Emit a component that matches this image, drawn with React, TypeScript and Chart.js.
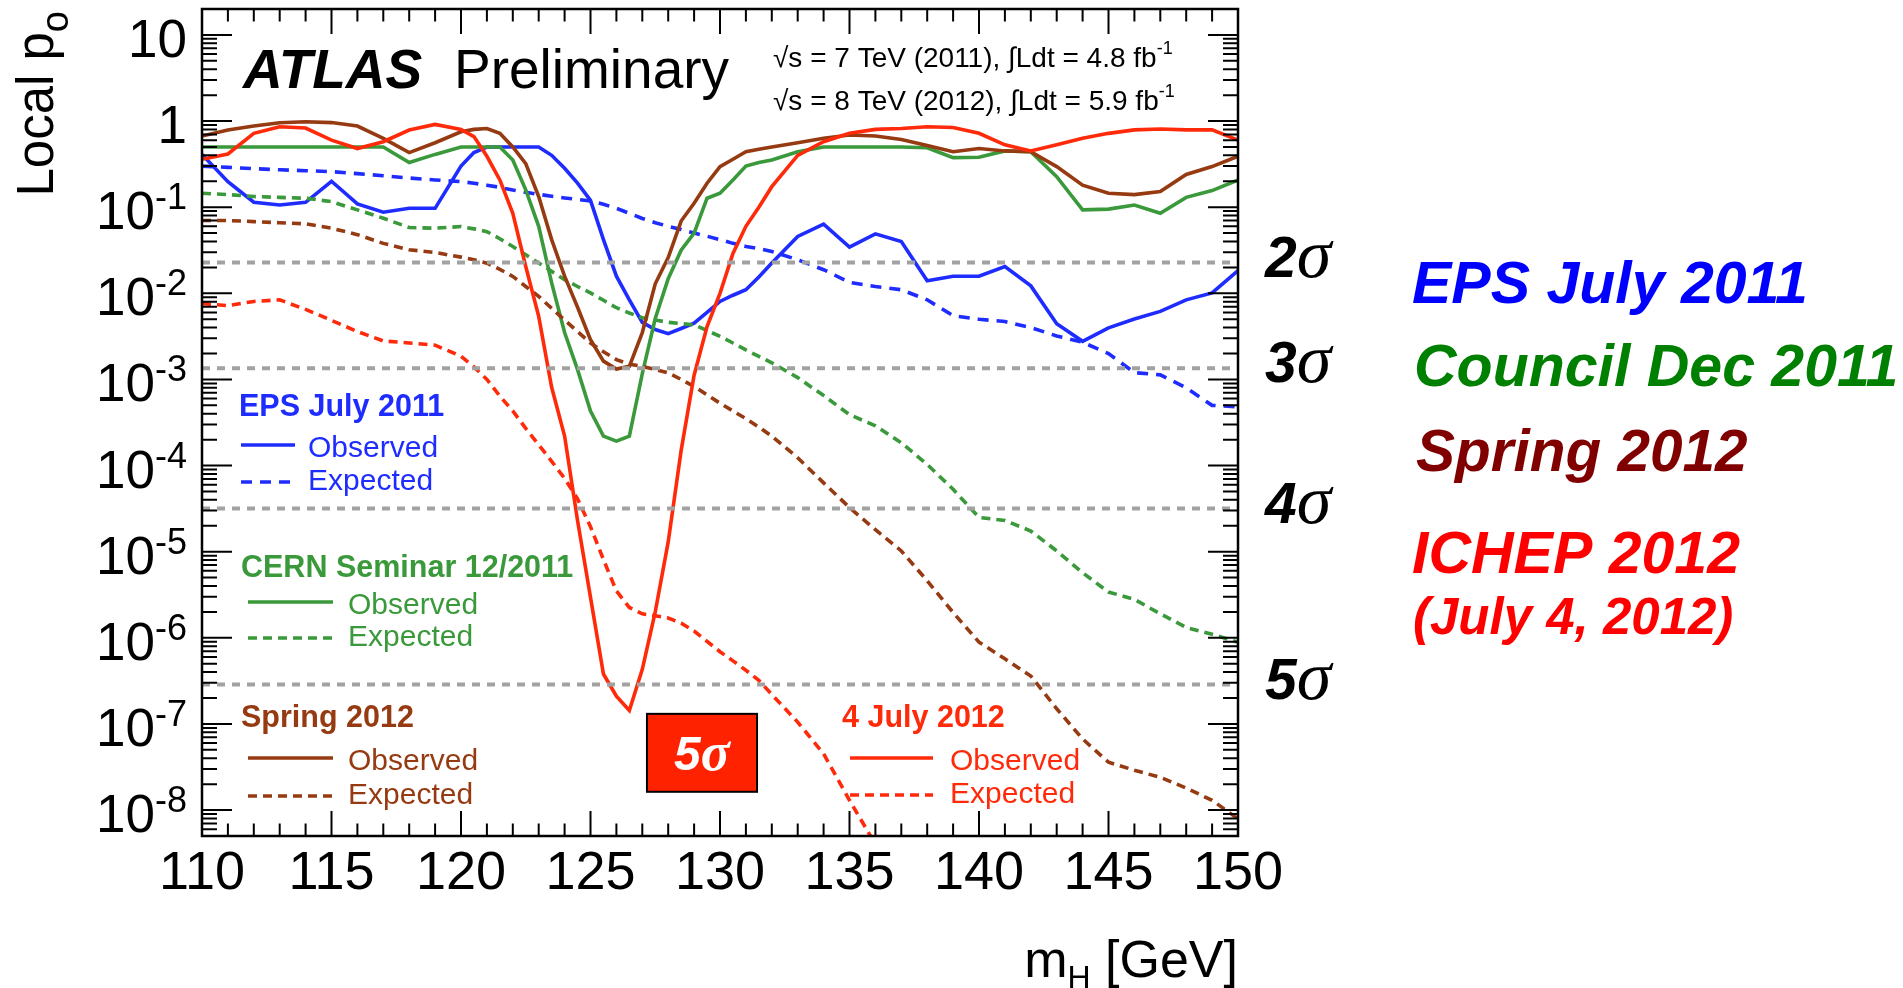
import React, { useEffect, useRef } from 'react';
import { Chart, registerables } from 'chart.js';

Chart.register(...registerables);

const SANS = '"Liberation Sans", Arial, Helvetica, sans-serif';
const SERIF = '"Liberation Serif", "Times New Roman", serif';

// Higgs mass grid (GeV)
const MASS = [
  110, 111, 112, 113, 114, 115, 116, 117, 118, 119,
  120, 120.5, 121, 121.5, 122, 122.5, 123, 123.5, 124, 124.5,
  125, 125.5, 126, 126.5, 127, 127.5, 128, 128.5, 129, 129.5,
  130, 130.5, 131, 131.5, 132,
  133, 134, 135, 136, 137, 138, 139, 140, 141, 142,
  143, 144, 145, 146, 147, 148, 149, 150,
];

// EPS July 2011
const EPS_OBS = [
  0.41, 0.198, 0.114, 0.106, 0.114, 0.2, 0.109, 0.0875, 0.097, 0.097,
  0.3, 0.43, 0.5, 0.5, 0.5, 0.5, 0.5, 0.4, 0.283, 0.19,
  0.12, 0.042, 0.0158, 0.0084, 0.0046, 0.0038, 0.0034, 0.0039, 0.0045, 0.006,
  0.00805, 0.0095, 0.011, 0.0155, 0.0225,
  0.0457, 0.0635, 0.0344, 0.049, 0.04, 0.014, 0.0158, 0.0158, 0.0205, 0.0122,
  0.00444, 0.00277, 0.00397, 0.00503, 0.00617, 0.0084, 0.0101, 0.0184,
];
const EPS_EXP = [
  0.3, 0.29, 0.28, 0.272, 0.265, 0.259, 0.245, 0.232, 0.218, 0.207,
  0.198, 0.19, 0.18, 0.17, 0.158, 0.149, 0.141, 0.134, 0.128, 0.123,
  0.118, 0.108, 0.097, 0.085, 0.074, 0.066, 0.06, 0.055, 0.05, 0.046,
  0.042, 0.038, 0.035, 0.033, 0.0306,
  0.0245, 0.0188, 0.0134, 0.012, 0.011, 0.0084, 0.0055, 0.005, 0.0047, 0.004,
  0.0032, 0.0027, 0.002, 0.0012, 0.00113, 0.0008, 0.0005, 0.00048,
];

// CERN Seminar 12/2011
const DEC_OBS = [
  0.5, 0.5, 0.5, 0.5, 0.5, 0.5, 0.5, 0.5, 0.33, 0.41,
  0.5, 0.5, 0.5, 0.5, 0.353, 0.159, 0.06, 0.0132, 0.0035, 0.0013,
  0.00043, 0.00022, 0.000192, 0.00022, 0.00117, 0.0051, 0.0148, 0.0316, 0.05, 0.127,
  0.145, 0.207, 0.3, 0.33, 0.353,
  0.44, 0.5, 0.5, 0.5, 0.5, 0.49, 0.376, 0.38, 0.45, 0.44,
  0.226, 0.093, 0.095, 0.106, 0.085, 0.13, 0.156, 0.207,
];
const DEC_EXP = [
  0.145, 0.14, 0.133, 0.13, 0.127, 0.116, 0.093, 0.0745, 0.058, 0.057,
  0.0596, 0.056, 0.052, 0.043, 0.035, 0.028, 0.0225, 0.018, 0.0144, 0.012,
  0.0101, 0.0083, 0.0068, 0.0059, 0.0052, 0.0049, 0.0046, 0.00445, 0.0043, 0.0037,
  0.00316, 0.00265, 0.0022, 0.00185, 0.00156,
  0.00105, 0.00065, 0.00039, 0.00029, 0.000184, 0.000103, 5.3e-5, 2.5e-5, 2.3e-5, 1.74e-5,
  1.02e-5, 5.7e-6, 3.4e-6, 2.8e-6, 1.9e-6, 1.32e-6, 1.1e-6, 8.9e-7,
];

// Spring 2012
const SPR_OBS = [
  0.67, 0.787, 0.875, 0.957, 0.98, 0.96, 0.875, 0.63, 0.43, 0.56,
  0.75, 0.8, 0.82, 0.72, 0.5, 0.32, 0.133, 0.042, 0.0158, 0.0069,
  0.0029, 0.00163, 0.00132, 0.00142, 0.0035, 0.0129, 0.026, 0.069, 0.111, 0.19,
  0.296, 0.36, 0.44, 0.47, 0.5,
  0.56, 0.63, 0.69, 0.67, 0.61, 0.52, 0.44, 0.48, 0.45, 0.44,
  0.296, 0.18, 0.145, 0.14, 0.152, 0.24, 0.296, 0.39,
];
const SPR_EXP = [
  0.07, 0.07, 0.068, 0.066, 0.064, 0.057, 0.048, 0.038, 0.032, 0.0298,
  0.0263, 0.0245, 0.0224, 0.019, 0.0157, 0.012, 0.0092, 0.0067, 0.0049, 0.0036,
  0.00265, 0.0021, 0.0017, 0.0015, 0.00142, 0.0013, 0.00119, 0.001, 0.00083, 0.00066,
  0.00053, 0.00043, 0.00035, 0.00028, 0.00022,
  0.000123, 6.3e-5, 3.25e-5, 1.8e-5, 1.02e-5, 4.6e-6, 1.97e-6, 8.9e-7, 5.7e-7, 3.6e-7,
  1.5e-7, 6.7e-8, 3.6e-8, 2.9e-8, 2.4e-8, 1.8e-8, 1.3e-8, 7.9e-9,
];

// 4 July 2012 (ICHEP)
const JUL_OBS = [
  0.36, 0.415, 0.72, 0.86, 0.83, 0.6, 0.48, 0.575, 0.787, 0.915,
  0.8, 0.66, 0.39, 0.207, 0.085, 0.0205, 0.0054, 0.00081, 0.00022, 2.3e-5,
  2.95e-6, 3.8e-7, 2.1e-7, 1.43e-7, 4.3e-7, 2.0e-6, 1.3e-5, 0.00015, 0.00112, 0.0041,
  0.01, 0.029, 0.06, 0.1, 0.173,
  0.4, 0.575, 0.72, 0.8, 0.82, 0.86, 0.84, 0.72, 0.53, 0.45,
  0.53, 0.63, 0.72, 0.79, 0.81, 0.79, 0.79, 0.6,
];
const JUL_EXP = [
  0.0076, 0.0072, 0.00805, 0.0084, 0.0065, 0.00485, 0.0036, 0.0028, 0.00265, 0.0025,
  0.00186, 0.0014, 0.001, 0.00064, 0.00043, 0.00027, 0.000174, 0.000112, 7.1e-5, 4.1e-5,
  1.95e-5, 8.1e-6, 3.5e-6, 2.25e-6, 1.9e-6, 1.8e-6, 1.7e-6, 1.48e-6, 1.2e-6, 9.1e-7,
  6.9e-7, 5.4e-7, 4.2e-7, 3.2e-7, 2.2e-7,
  1.05e-7, 4.5e-8, 1.3e-8, 4.0e-9, null, null, null, null, null, null,
  null, null, null, null, null, null, null, null,
];

// one-sided p-values of 2,3,4,5 sigma
const SIGMA_P = [0.02275, 1.35e-3, 3.17e-5, 2.87e-7];
const SIGMA_N = ['2', '3', '4', '5'];

const X_TICKS = [110, 115, 120, 125, 130, 135, 140, 145, 150];
const Y_DECADES = [1, 0, -1, -2, -3, -4, -5, -6, -7, -8];

const BLUE = '#1e2cff';
const GREEN = '#3a993a';
const BROWN = '#963a12';
const RED = '#ff2a0a';
const GREY = '#a2a2a2';

const series = (vals: (number | null)[]) => MASS.map((m, i) => ({ x: m, y: vals[i] }));

type Run = { t: string; f: string; dy?: number; c?: string };

function drawRuns(ctx: CanvasRenderingContext2D, runs: Run[], x: number, y: number, align: string, color: string) {
  let w = 0;
  for (const r of runs) { ctx.font = r.f; w += ctx.measureText(r.t).width; }
  let cx = align === 'right' ? x - w : align === 'center' ? x - w / 2 : x;
  ctx.textAlign = 'left';
  ctx.textBaseline = 'alphabetic';
  for (const r of runs) {
    ctx.font = r.f;
    ctx.fillStyle = r.c || color;
    ctx.fillText(r.t, cx, y + (r.dy || 0));
    cx += ctx.measureText(r.t).width;
  }
}

function seg(ctx: CanvasRenderingContext2D, x1: number, y1: number, x2: number, y2: number, color: string, lw: number, dash: number[]) {
  ctx.save();
  ctx.strokeStyle = color;
  ctx.lineWidth = lw;
  ctx.setLineDash(dash);
  ctx.beginPath();
  ctx.moveTo(x1, y1);
  ctx.lineTo(x2, y2);
  ctx.stroke();
  ctx.restore();
}

const decor = {
  id: 'decor',
  afterDatasetsDraw(chart: any) {
    const { ctx, chartArea: a } = chart;
    const xs = chart.scales.x;
    const ys = chart.scales.y;
    ctx.save();

    // inner ticks on all four sides
    ctx.strokeStyle = '#000';
    ctx.lineWidth = 2;
    ctx.beginPath();
    for (let v = xs.min; v <= xs.max; v += 1) {
      const px = xs.getPixelForValue(v);
      const len = v % 5 === 0 ? 25 : 12.5;
      ctx.moveTo(px, a.bottom); ctx.lineTo(px, a.bottom - len);
      ctx.moveTo(px, a.top); ctx.lineTo(px, a.top + len);
    }
    for (let k = -9; k <= 1; k++) {
      for (let m = 1; m <= 9; m++) {
        const v = m * Math.pow(10, k);
        if (v < ys.min * 0.999 || v > ys.max * 1.001) continue;
        const py = ys.getPixelForValue(v);
        const len = m === 1 ? 30 : 15;
        ctx.moveTo(a.left, py); ctx.lineTo(a.left + len, py);
        ctx.moveTo(a.right, py); ctx.lineTo(a.right - len, py);
      }
    }
    ctx.stroke();
    ctx.lineWidth = 2.5;
    ctx.strokeRect(a.left, a.top, a.right - a.left, a.bottom - a.top);

    // y tick labels
    for (const k of Y_DECADES) {
      const py = ys.getPixelForValue(Math.pow(10, k));
      if (k === 1) drawRuns(ctx, [{ t: '10', f: `53px ${SANS}` }], 187, py + 22, 'right', '#000');
      else if (k === 0) drawRuns(ctx, [{ t: '1', f: `53px ${SANS}` }], 187, py + 22, 'right', '#000');
      else drawRuns(ctx, [{ t: '10', f: `53px ${SANS}` }, { t: String(k), f: `36px ${SANS}`, dy: -20 }], 187, py + 22, 'right', '#000');
    }

    // y axis title
    ctx.save();
    ctx.translate(53, 11);
    ctx.rotate(-Math.PI / 2);
    drawRuns(ctx, [{ t: 'Local p', f: `51px ${SANS}` }, { t: 'o', f: `38px ${SANS}`, dy: 15 }], 0, 0, 'right', '#000');
    ctx.restore();

    // x axis title
    drawRuns(ctx, [{ t: 'm', f: `52px ${SANS}` }, { t: 'H', f: `32px ${SANS}`, dy: 11 }, { t: ' [GeV]', f: `52px ${SANS}` }], a.right, 977, 'right', '#000');

    // ATLAS label
    drawRuns(ctx, [{ t: 'ATLAS', f: `italic bold 55px ${SANS}` }], 243, 88, 'left', '#000');
    drawRuns(ctx, [{ t: 'Preliminary', f: `55px ${SANS}` }], 454, 88, 'left', '#000');
    drawRuns(ctx, [{ t: '\u221As = 7 TeV (2011), \u222BLdt = 4.8 fb', f: `28px ${SANS}` }, { t: '-1', f: `18px ${SANS}`, dy: -13 }], 773, 67, 'left', '#000');
    drawRuns(ctx, [{ t: '\u221As = 8 TeV (2012), \u222BLdt = 5.9 fb', f: `28px ${SANS}` }, { t: '-1', f: `18px ${SANS}`, dy: -13 }], 773, 110, 'left', '#000');

    // in-plot legends
    const legend = (title: string, color: string, tx: number, ty: number, lx1: number, lx2: number, txt: number, obsY: number, expY: number, dash: number[]) => {
      drawRuns(ctx, [{ t: title, f: `bold 30.5px ${SANS}` }], tx, ty, 'left', color);
      seg(ctx, lx1, obsY, lx2, obsY, color, 3.5, []);
      seg(ctx, lx1, expY, lx2, expY, color, 3.5, dash);
      drawRuns(ctx, [{ t: 'Observed', f: `30px ${SANS}` }], txt, obsY + 12, 'left', color);
      drawRuns(ctx, [{ t: 'Expected', f: `30px ${SANS}` }], txt, expY + 8, 'left', color);
    };
    legend('EPS July 2011', BLUE, 239, 416, 241, 295, 308, 445, 482, [11, 8]);
    legend('CERN Seminar 12/2011', GREEN, 241, 577, 248, 333, 348, 602, 638, [9, 6]);
    legend('Spring 2012', BROWN, 241, 727, 248, 333, 348, 758, 796, [9, 6]);
    legend('4 July 2012', RED, 842, 727, 850, 933, 950, 758, 795, [9, 6]);

    // 5 sigma box
    const bx1 = xs.getPixelForValue(127.18), bx2 = xs.getPixelForValue(131.43);
    const by1 = ys.getPixelForValue(1.31e-7), by2 = ys.getPixelForValue(1.63e-8);
    ctx.fillStyle = '#ff2200';
    ctx.fillRect(bx1, by1, bx2 - bx1, by2 - by1);
    ctx.strokeStyle = '#000';
    ctx.lineWidth = 2;
    ctx.strokeRect(bx1, by1, bx2 - bx1, by2 - by1);
    drawRuns(ctx, [{ t: '5', f: `italic bold 48px ${SANS}` }, { t: '\u03C3', f: `italic bold 54px ${SERIF}` }], (bx1 + bx2) / 2, (by1 + by2) / 2 + 17, 'center', '#fff');

    // sigma labels right of the frame
    SIGMA_P.forEach((p, i) => {
      const py = ys.getPixelForValue(p);
      drawRuns(ctx, [{ t: SIGMA_N[i], f: `italic bold 57px ${SANS}` }, { t: '\u03C3', f: `italic 70px ${SERIF}` }], 1265, py + 14, 'left', '#000');
    });

    // right-hand text block
    drawRuns(ctx, [{ t: 'EPS July 2011', f: `italic bold 59px ${SANS}` }], 1412, 303, 'left', '#0000ff');
    drawRuns(ctx, [{ t: 'Council Dec 2011', f: `italic bold 59px ${SANS}` }], 1414, 386, 'left', '#008000');
    drawRuns(ctx, [{ t: 'Spring 2012', f: `italic bold 58.5px ${SANS}` }], 1416, 471, 'left', '#800000');
    drawRuns(ctx, [{ t: 'ICHEP 2012', f: `italic bold 59px ${SANS}` }], 1412, 573, 'left', '#ff0000');
    drawRuns(ctx, [{ t: '(July 4, 2012)', f: `italic bold 51px ${SANS}` }], 1413, 634, 'left', '#ff0000');

    ctx.restore();
  },
};

export default function App() {
  const ref = useRef<HTMLCanvasElement | null>(null);

  useEffect(() => {
    const canvas = ref.current;
    if (!canvas) return;
    const sigmaSets = SIGMA_P.map((p) => ({
      data: [{ x: 110, y: p }, { x: 150, y: p }],
      borderColor: GREY,
      borderWidth: 4,
      borderDash: [8, 7],
    }));
    const line = (vals: (number | null)[], color: string, dashed: boolean) => ({
      data: series(vals),
      borderColor: color,
      borderWidth: 3.6,
      borderDash: dashed ? [9, 6] : [],
    });
    const chart = new Chart(canvas, {
      type: 'line',
      data: {
        datasets: [
          ...sigmaSets,
          line(JUL_OBS, RED, false),
          line(JUL_EXP, RED, true),
          line(SPR_OBS, BROWN, false),
          line(SPR_EXP, BROWN, true),
          line(DEC_OBS, GREEN, false),
          line(DEC_EXP, GREEN, true),
          line(EPS_OBS, BLUE, false),
          { ...line(EPS_EXP, BLUE, true), borderDash: [11, 8] },
        ] as any,
      },
      options: {
        responsive: false,
        animation: false,
        devicePixelRatio: 1,
        layout: { padding: { left: 0, right: 665, top: 9, bottom: 0 } },
        elements: { point: { radius: 0 }, line: { tension: 0, fill: false } },
        plugins: { legend: { display: false }, tooltip: { enabled: false } },
        scales: {
          x: {
            type: 'linear',
            min: 110,
            max: 150,
            grid: { display: false, drawTicks: false },
            border: { display: false },
            afterFit: (s: any) => { s.height = 152; },
            afterBuildTicks: (s: any) => { s.ticks = X_TICKS.map((v) => ({ value: v })); },
            ticks: {
              autoSkip: false,
              maxRotation: 0,
              padding: 6,
              color: '#000',
              font: { family: SANS, size: 54 },
              callback: (v: any) => String(v),
            },
          },
          y: {
            type: 'logarithmic',
            min: 5e-9,
            max: 20,
            grid: { display: false, drawTicks: false },
            border: { display: false },
            ticks: { display: false },
            afterFit: (s: any) => { s.width = 202; },
          },
        },
      } as any,
      plugins: [decor],
    });
    return () => chart.destroy();
  }, []);

  return (
    <div style={{ position: 'fixed', left: 0, top: 0, width: 1903, height: 988, background: '#fff' }}>
      <canvas ref={ref} width={1903} height={988} style={{ width: 1903, height: 988, display: 'block' }} />
    </div>
  );
}
